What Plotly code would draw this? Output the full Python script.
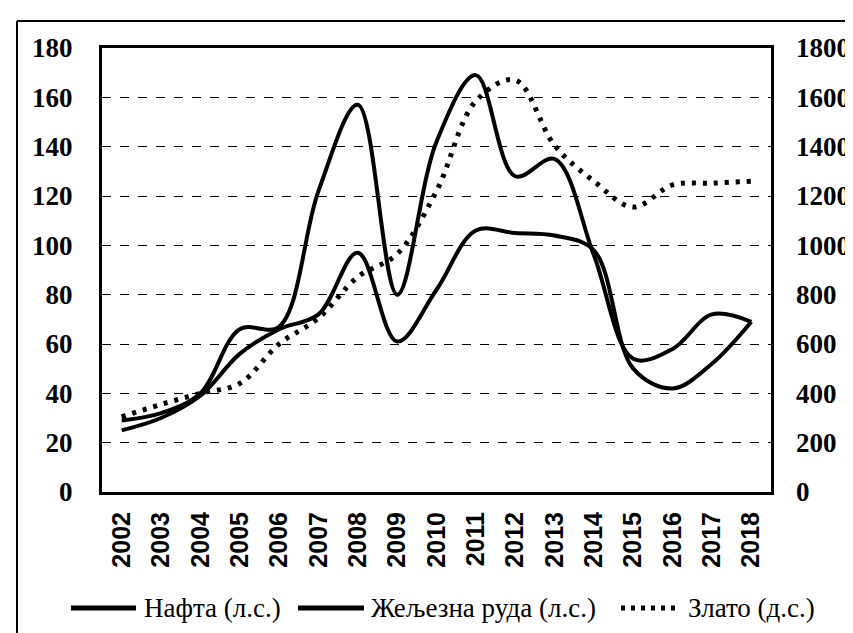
import plotly.graph_objects as go

years = [str(y) for y in range(2002, 2019)]
oil = [25, 30, 39, 56, 66, 72, 97, 61, 82, 106, 105, 104, 98, 50, 42, 52, 69]
iron = [29, 32, 40, 66, 67, 122, 157, 80, 142, 169, 128, 135, 96, 54, 58, 72, 69]
gold = [305, 355, 400, 440, 600, 705, 872, 965, 1220, 1585, 1670, 1405, 1260, 1155, 1245, 1252, 1260]

series_names = ["Нафта (л.с.)", "Жељезна руда (л.с.)", "Злато (д.с.)"]
left_ticks = list(range(0, 181, 20))
right_ticks = list(range(0, 1801, 200))

W, H = 853, 633
L, R, T, B = 94, 90, 40, 149
PW, PH = W - L - R, H - T - B


def px(x):
    return (x - L) / PW


def py(y):
    return (H - B - y) / PH


fig = go.Figure()
fig.add_trace(go.Scatter(x=years, y=oil, name=series_names[0], mode="lines",
                         line=dict(color="black", width=4, shape="spline", smoothing=1.0)))
fig.add_trace(go.Scatter(x=years, y=iron, name=series_names[1], mode="lines",
                         line=dict(color="black", width=4, shape="spline", smoothing=1.0)))
fig.add_trace(go.Scatter(x=years, y=gold, name=series_names[2], mode="lines", yaxis="y2",
                         line=dict(color="black", width=5, dash="4px,7px", shape="spline", smoothing=1.0)))

fig.update_layout(
    width=W, height=H,
    margin=dict(l=L, r=R, t=T, b=B),
    paper_bgcolor="white", plot_bgcolor="white",
    font=dict(family="Liberation Serif", color="black"),
    showlegend=False,
    xaxis=dict(type="category", range=[-0.5, 16.5], tickangle=-90, showgrid=False, showline=True,
               mirror=True, linecolor="black", linewidth=3, ticks="", ticklabelstandoff=7,
               automargin=False,
               tickfont=dict(family="Liberation Sans", size=25, color="black", weight="bold")),
    yaxis=dict(range=[0, 180], tickvals=left_ticks, showgrid=True, gridcolor="black",
               gridwidth=1, griddash="dash", showline=True, mirror=True, linecolor="black",
               linewidth=3, ticks="", ticklabelstandoff=21, zeroline=False, automargin=False,
               tickfont=dict(family="Liberation Serif", size=27, color="black", weight="bold")),
    yaxis2=dict(range=[0, 1800], tickvals=right_ticks, overlaying="y", side="right",
                showgrid=False, showline=False, ticks="", ticklabelstandoff=24, zeroline=False,
                automargin=False,
                tickfont=dict(family="Liberation Serif", size=27, color="black", weight="bold")),
)

# outer chart frame (top and left edges visible in the reference)
fig.add_shape(type="line", xref="paper", yref="paper", x0=px(9), x1=px(860), y0=py(13), y1=py(13),
              line=dict(color="black", width=2))
fig.add_shape(type="line", xref="paper", yref="paper", x0=px(9), x1=px(9), y0=py(13), y1=py(640),
              line=dict(color="black", width=2))

# legend drawn below the plot
leg_y = py(600)
legend_items = [
    (63, 128, 134, dict(color="black", width=5), series_names[0]),
    (290, 356, 361, dict(color="black", width=5), series_names[1]),
    (613, 670, 678, dict(color="black", width=5, dash="4px,6px"), series_names[2]),
]
for x0, x1, tx, ln, label in legend_items:
    fig.add_shape(type="line", xref="paper", yref="paper", x0=px(x0), x1=px(x1), y0=leg_y, y1=leg_y,
                  line=ln)
    fig.add_annotation(xref="paper", yref="paper", x=px(tx), y=leg_y, text=label, showarrow=False,
                       xanchor="left", yanchor="middle",
                       font=dict(family="Liberation Serif", size=27, color="black"))

fig.write_html("out.html")
